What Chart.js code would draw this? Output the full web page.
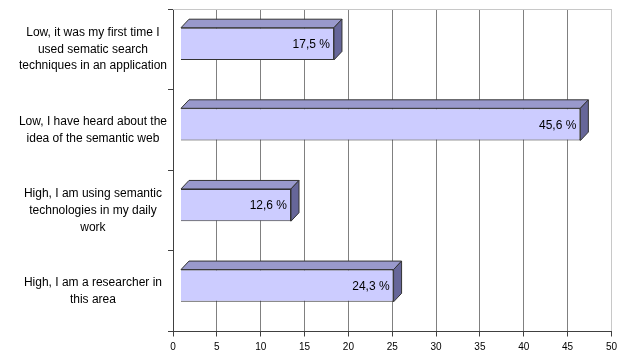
<!DOCTYPE html>
<html>
<head>
<meta charset="utf-8">
<script src="https://cdn.jsdelivr.net/npm/chart.js@4/dist/chart.umd.min.js"></script>
<style>
  html, body { margin: 0; padding: 0; background: #ffffff; }
  #wrap { width: 622px; height: 355px; position: relative; }
</style>
</head>
<body>
<div id="wrap"><canvas id="c"></canvas></div>
<script>
const categories = [
  ["Low, it was my first time I", "used sematic search", "techniques in an application"],
  ["Low, I have heard about the", "idea of the semantic web"],
  ["High, I am using semantic", "technologies in my daily", "work"],
  ["High, I am a researcher in", "this area"]
];
const values = [17.5, 45.6, 12.6, 24.3];
const valueLabels = ["17,5 %", "45,6 %", "12,6 %", "24,3 %"];
const xTicks = [0, 5, 10, 15, 20, 25, 30, 35, 40, 45, 50];

const SHIFT_X = 7.5, SHIFT_Y = -5.5, DX = 8, DY = -8.5;

const bar3d = {
  id: 'bar3d',
  beforeDatasetsDraw(chart) {
    const ctx = chart.ctx, a = chart.chartArea;
    ctx.save();
    ctx.strokeStyle = '#c8c8c8';
    ctx.lineWidth = 1;
    ctx.beginPath();
    ctx.moveTo(a.left, a.top + 0.5);
    ctx.lineTo(a.right, a.top + 0.5);
    ctx.stroke();
    ctx.restore();
    ctx.save();
    ctx.translate(SHIFT_X, SHIFT_Y);
  },
  afterDatasetsDraw(chart) {
    const ctx = chart.ctx;
    const meta = chart.getDatasetMeta(0);
    meta.data.forEach((el, i) => {
      const p = el.getProps(['x', 'y', 'base', 'height'], true);
      const top = p.y - p.height / 2, bot = p.y + p.height / 2;
      ctx.lineWidth = 1;
      ctx.strokeStyle = '#333333';
      // top face
      ctx.beginPath();
      ctx.moveTo(p.base, top);
      ctx.lineTo(p.base + DX, top + DY);
      ctx.lineTo(p.x + DX, top + DY);
      ctx.lineTo(p.x, top);
      ctx.closePath();
      ctx.fillStyle = '#9999cc';
      ctx.fill();
      ctx.stroke();
      // side face
      ctx.beginPath();
      ctx.moveTo(p.x, top);
      ctx.lineTo(p.x + DX, top + DY);
      ctx.lineTo(p.x + DX, bot + DY);
      ctx.lineTo(p.x, bot);
      ctx.closePath();
      ctx.fillStyle = '#666699';
      ctx.fill();
      ctx.stroke();
      // label
      ctx.fillStyle = '#000000';
      ctx.font = '12px "Liberation Sans", Arial, sans-serif';
      ctx.textAlign = 'right';
      ctx.textBaseline = 'middle';
      ctx.fillText(valueLabels[i], p.x - 4, p.y + 1);
    });
    ctx.restore();
  }
};

new Chart(document.getElementById('c'), {
  type: 'bar',
  data: {
    labels: categories,
    datasets: [{
      data: values,
      backgroundColor: '#ccccff',
      borderColor: '#333333',
      borderWidth: 1,
      categoryPercentage: 0.4,
      barPercentage: 1,
      clip: false
    }]
  },
  options: {
    indexAxis: 'y',
    responsive: true,
    maintainAspectRatio: false,
    animation: false,
    layout: { padding: { top: 9, right: 10, left: 0, bottom: 0 } },
    plugins: { legend: { display: false }, tooltip: { enabled: false } },
    scales: {
      x: {
        min: 0, max: 50,
        afterBuildTicks(scale) { scale.ticks = xTicks.map(v => ({ value: v })); },
        afterFit(scale) { scale.height = 23.5; },
        grid: {
          color: ctx => (ctx.tick && ctx.tick.value === 50 ? '#c8c8c8' : '#808080'),
          tickColor: '#404040',
          tickLength: 5,
          lineWidth: 1
        },
        border: { color: '#404040' },
        ticks: {
          color: '#000000',
          padding: 5,
          maxRotation: 0,
          font: { family: '"Liberation Sans Narrow", "Liberation Sans", Arial, sans-serif', size: 10 }
        }
      },
      y: {
        afterFit(scale) { scale.width = 173; scale.paddingTop = 0; scale.paddingBottom = 0; },
        grid: {
          drawOnChartArea: false,
          offset: true,
          tickLength: 5,
          color: '#404040'
        },
        border: { color: '#404040' },
        ticks: {
          color: '#000000',
          crossAlign: 'center',
          padding: 1,
          font: { family: '"Liberation Sans", Arial, sans-serif', size: 12, lineHeight: 1.4 }
        }
      }
    }
  },
  plugins: [bar3d]
});
</script>
</body>
</html>
